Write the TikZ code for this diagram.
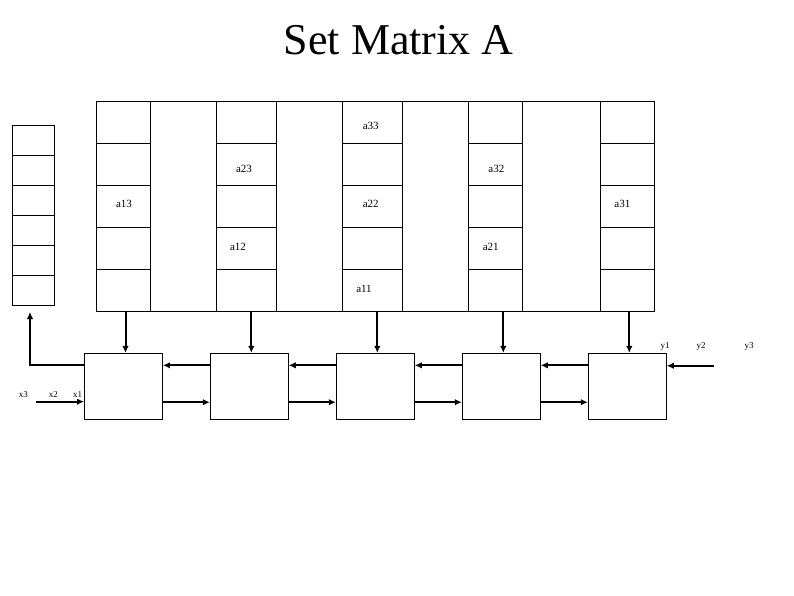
\documentclass[tikz,border=0pt]{standalone}
\usepackage{fontspec}
\setmainfont{Liberation Serif}
\usetikzlibrary{arrows.meta,positioning}

\begin{document}
\begin{tikzpicture}[
  x=1pt, y=-1pt,
  cell/.style={draw,line width=0.9pt,inner sep=0pt,minimum height=42pt},
  vcell/.style={draw,line width=0.9pt,inner sep=0pt,minimum width=41.6pt,minimum height=30pt},
  pe/.style={draw,line width=0.9pt,inner sep=0pt,minimum width=78pt,minimum height=65.7pt},
  elem/.style={font=\fontsize{11}{13}\selectfont,inner sep=0pt},
  lbl/.style={font=\fontsize{9}{11}\selectfont,inner sep=0pt},
  arrow/.style={-{Latex[length=7pt,width=6.5pt]},line width=2pt}
]
\useasboundingbox (0,0) rectangle (794,595);

\node[inner sep=0pt] (title) at (398.7,40.4) {\fontsize{44}{50}\selectfont Set Matrix A};

% matrix cells: column / centre x / width
\foreach \c/\x/\w in {1/123.5/53.6, 2/246.3/60, 3/372.3/60, 4/495.3/54, 5/627.3/54}
  \foreach \r in {1,...,5}
    \node[cell, minimum width=\w pt] (c\c r\r) at (\x, 80.3+42*\r) {};
% empty columns between them
\foreach \g/\x/\w in {1/183.3/66, 2/309.3/66, 3/435.3/66, 4/561.3/78}
  \node[cell, minimum width=\w pt, minimum height=210pt] (g\g) at (\x,206.3) {};

\node[elem] (a33) at (370.7,126) {a33};
\node[elem] (a23) at (244,168.7) {a23};
\node[elem] (a32) at (496.3,168.7) {a32};
\node[elem] (a13) at (124,204.3) {a13};
\node[elem] (a22) at (370.7,204.3) {a22};
\node[elem] (a31) at (622.3,204.3) {a31};
\node[elem] (a12) at (238,246.7) {a12};
\node[elem] (a21) at (490.7,246.7) {a21};
\node[elem] (a11) at (364,289) {a11};

% result vector
\foreach \r in {1,...,6}
  \node[vcell] (v\r) at (33.5, 110.3+30*\r) {};

% processing elements
\foreach \i/\x in {1/123.5, 2/249.3, 3/375.3, 4/501.3, 5/627.3}
  \node[pe] (p\i) at (\x,386.2) {};

\foreach \i in {1,...,5}
  \draw[arrow] ([xshift=2pt]p\i.north |- c1r5.south) -- ([xshift=2pt]p\i.north);

\foreach \i/\j in {2/1,3/2,4/3,5/4} {
  \draw[arrow] ([yshift=-12.4pt]p\i.north west) -- ([yshift=-12.4pt]p\j.north east);
  \draw[arrow] ([yshift=17.3pt]p\j.south east) -- ([yshift=17.3pt]p\i.south west);
}

\coordinate (yin) at (714,365.7);
\draw[arrow] (yin) -- (yin -| p5.east);
\coordinate (xin) at (36,401.7);
\draw[arrow] (xin) -- (xin -| p1.west);
\coordinate (xout) at (30,312);
\draw[arrow] ([yshift=-12.4pt]p1.north west) -| (xout);

\node[lbl] (x3) at (23.3,394.3) {x3};
\node[lbl] (x2) at (53.3,394.3) {x2};
\node[lbl] (x1) at (77.7,394.3) {x1};
\node[lbl] (y1) at (665,346.7) {y1};
\node[lbl] (y2) at (701,346.7) {y2};
\node[lbl] (y3) at (749,346.7) {y3};
\end{tikzpicture}
\end{document}
